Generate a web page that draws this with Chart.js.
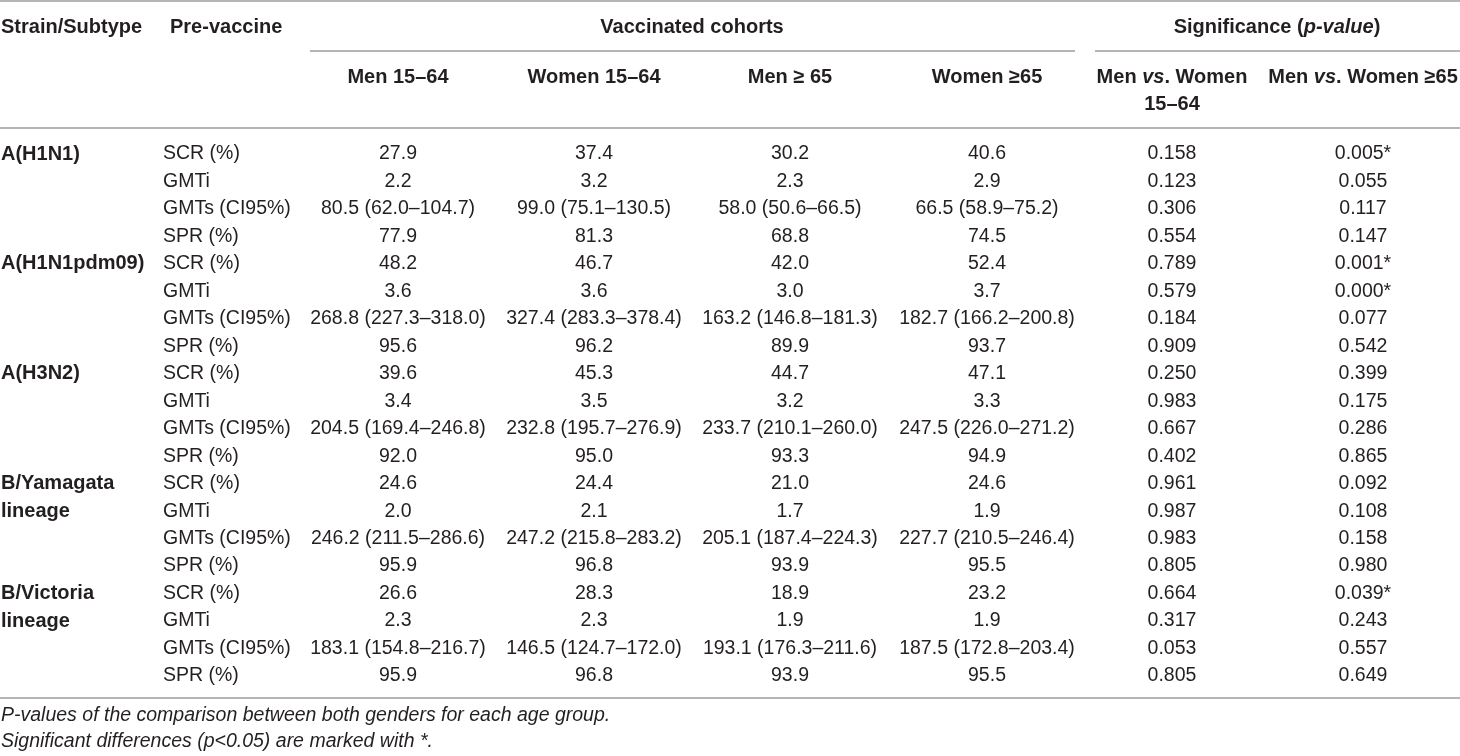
<!DOCTYPE html>
<html>
<head>
<meta charset="utf-8">
<script src="https://cdn.jsdelivr.net/npm/chart.js@4/dist/chart.umd.min.js"></script>
<style>
  html, body { margin: 0; padding: 0; background: #fff; }
  #wrap { width: 1460px; height: 756px; }
</style>
</head>
<body>
<div id="wrap"><canvas id="table" width="1460" height="756"></canvas></div>
<script>
// Table data
const strains = ['A(H1N1)', 'A(H1N1pdm09)', 'A(H3N2)', 'B/Yamagata lineage', 'B/Victoria lineage'];
const strainCells = ['A(H1N1)', '', '', '', 'A(H1N1pdm09)', '', '', '', 'A(H3N2)', '', '', '',
  'B/Yamagata', 'lineage', '', '', 'B/Victoria', 'lineage', '', ''];
const measures = ['SCR (%)', 'GMTi', 'GMTs (CI95%)', 'SPR (%)'];
const measureCells = strains.flatMap(() => measures);
const rowKeys = strains.flatMap(s => measures.map(m => s + ' ' + m));

const men1564 = ['27.9', '2.2', '80.5 (62.0–104.7)', '77.9', '48.2', '3.6', '268.8 (227.3–318.0)', '95.6',
  '39.6', '3.4', '204.5 (169.4–246.8)', '92.0', '24.6', '2.0', '246.2 (211.5–286.6)', '95.9',
  '26.6', '2.3', '183.1 (154.8–216.7)', '95.9'];
const women1564 = ['37.4', '3.2', '99.0 (75.1–130.5)', '81.3', '46.7', '3.6', '327.4 (283.3–378.4)', '96.2',
  '45.3', '3.5', '232.8 (195.7–276.9)', '95.0', '24.4', '2.1', '247.2 (215.8–283.2)', '96.8',
  '28.3', '2.3', '146.5 (124.7–172.0)', '96.8'];
const men65 = ['30.2', '2.3', '58.0 (50.6–66.5)', '68.8', '42.0', '3.0', '163.2 (146.8–181.3)', '89.9',
  '44.7', '3.2', '233.7 (210.1–260.0)', '93.3', '21.0', '1.7', '205.1 (187.4–224.3)', '93.9',
  '18.9', '1.9', '193.1 (176.3–211.6)', '93.9'];
const women65 = ['40.6', '2.9', '66.5 (58.9–75.2)', '74.5', '52.4', '3.7', '182.7 (166.2–200.8)', '93.7',
  '47.1', '3.3', '247.5 (226.0–271.2)', '94.9', '24.6', '1.9', '227.7 (210.5–246.4)', '95.5',
  '23.2', '1.9', '187.5 (172.8–203.4)', '95.5'];
const pValues1564 = ['0.158', '0.123', '0.306', '0.554', '0.789', '0.579', '0.184', '0.909',
  '0.250', '0.983', '0.667', '0.402', '0.961', '0.987', '0.983', '0.805',
  '0.664', '0.317', '0.053', '0.805'];
const pValues65 = ['0.005*', '0.055', '0.117', '0.147', '0.001*', '0.000*', '0.077', '0.542',
  '0.399', '0.175', '0.286', '0.865', '0.092', '0.108', '0.158', '0.980',
  '0.039*', '0.243', '0.557', '0.649'];

const footnotes = [
  'P-values of the comparison between both genders for each age group.',
  'Significant differences (p<0.05) are marked with *.'
];

// Layout (column anchors on the x scale, header/footer offsets from the chart area)
const FAMILY = '"Liberation Sans", Arial, Helvetica, sans-serif';
const TEXT = '#231f20';
const RULE = '#9d9d9d';
const SIZE = 19.5;
const HEAD_SIZE = 20;
const columns = [
  { cells: strainCells, x: 1, align: 'left', bold: true },
  { cells: measureCells, x: 163, align: 'left' },
  { cells: men1564, x: 398, align: 'center' },
  { cells: women1564, x: 594, align: 'center' },
  { cells: men65, x: 790, align: 'center' },
  { cells: women65, x: 987, align: 'center' },
  { cells: pValues1564, x: 1172, align: 'center' },
  { cells: pValues65, x: 1363, align: 'center' }
];
const head = {
  topRule: -153, row1: -127, subRule: -103, row2: -77, row2b: -50, headRule: -26,
  bottomRule: 22, foot1: 40, foot2: 66
};

function font(bold, italic, size) {
  return (italic ? 'italic ' : '') + (bold ? 'bold ' : '') + size + 'px ' + FAMILY;
}

// draw a line of mixed runs: [{t, b, i}]
function drawRuns(ctx, runs, x, y, align, size) {
  let w = 0;
  runs.forEach(r => { ctx.font = font(r.b, r.i, size); w += ctx.measureText(r.t).width; });
  let cx = align === 'center' ? x - w / 2 : (align === 'right' ? x - w : x);
  ctx.textAlign = 'left';
  ctx.textBaseline = 'middle';
  runs.forEach(r => {
    ctx.font = font(r.b, r.i, size);
    ctx.fillText(r.t, cx, y);
    cx += ctx.measureText(r.t).width;
  });
}

function rule(ctx, x1, x2, y) {
  ctx.beginPath();
  ctx.moveTo(x1, y);
  ctx.lineTo(x2, y);
  ctx.stroke();
}

const tablePlugin = {
  id: 'tableText',
  afterDatasetsDraw(chart) {
    const ctx = chart.ctx;
    ctx.save();
    ctx.fillStyle = TEXT;
    chart.data.datasets.forEach((ds, di) => {
      const col = columns[di];
      chart.getDatasetMeta(di).data.forEach((pt, i) => {
        const txt = col.cells[i];
        if (!txt) return;
        drawRuns(ctx, [{ t: txt, b: !!col.bold }], pt.x, pt.y, col.align, col.bold ? HEAD_SIZE : SIZE);
      });
    });
    ctx.restore();
  },
  afterDraw(chart) {
    const ctx = chart.ctx;
    const xs = chart.scales.x;
    const area = chart.chartArea;
    const px = v => xs.getPixelForValue(v);
    const top = area.top, bottom = area.bottom;
    ctx.save();
    ctx.strokeStyle = RULE;
    ctx.lineWidth = 1.6;
    rule(ctx, px(0), px(1460), top + head.topRule);
    rule(ctx, px(310), px(1075), top + head.subRule);
    rule(ctx, px(1095), px(1460), top + head.subRule);
    rule(ctx, px(0), px(1460), top + head.headRule);
    rule(ctx, px(0), px(1460), bottom + head.bottomRule);

    ctx.fillStyle = TEXT;
    const r1 = top + head.row1, r2 = top + head.row2;
    drawRuns(ctx, [{ t: 'Strain/Subtype', b: true }], px(1), r1, 'left', HEAD_SIZE);
    drawRuns(ctx, [{ t: 'Pre-vaccine', b: true }], px(170), r1, 'left', HEAD_SIZE);
    drawRuns(ctx, [{ t: 'Vaccinated cohorts', b: true }], px(692), r1, 'center', HEAD_SIZE);
    drawRuns(ctx, [{ t: 'Significance (', b: true }, { t: 'p-value', b: true, i: true }, { t: ')', b: true }],
      px(1277), r1, 'center', HEAD_SIZE);

    drawRuns(ctx, [{ t: 'Men 15–64', b: true }], px(columns[2].x), r2, 'center', HEAD_SIZE);
    drawRuns(ctx, [{ t: 'Women 15–64', b: true }], px(columns[3].x), r2, 'center', HEAD_SIZE);
    drawRuns(ctx, [{ t: 'Men ≥ 65', b: true }], px(columns[4].x), r2, 'center', HEAD_SIZE);
    drawRuns(ctx, [{ t: 'Women ≥65', b: true }], px(columns[5].x), r2, 'center', HEAD_SIZE);
    drawRuns(ctx, [{ t: 'Men ', b: true }, { t: 'vs', b: true, i: true }, { t: '. Women', b: true }],
      px(columns[6].x), r2, 'center', HEAD_SIZE);
    drawRuns(ctx, [{ t: '15–64', b: true }], px(columns[6].x), top + head.row2b, 'center', HEAD_SIZE);
    drawRuns(ctx, [{ t: 'Men ', b: true }, { t: 'vs', b: true, i: true }, { t: '. Women ≥65', b: true }],
      px(columns[7].x), r2, 'center', HEAD_SIZE);

    drawRuns(ctx, [{ t: footnotes[0], i: true }], px(1), bottom + head.foot1, 'left', SIZE);
    drawRuns(ctx, [{ t: footnotes[1], i: true }], px(1), bottom + head.foot2, 'left', SIZE);
    ctx.restore();
  }
};

new Chart(document.getElementById('table'), {
  type: 'scatter',
  data: {
    datasets: columns.map(col => ({
      data: col.cells.map((_, i) => ({ x: col.x, y: i })),
      pointRadius: 0,
      pointHoverRadius: 0,
      showLine: false
    }))
  },
  options: {
    responsive: false,
    animation: false,
    devicePixelRatio: 1,
    layout: { padding: { top: 154, bottom: 80, left: 0, right: 0 } },
    plugins: { legend: { display: false }, tooltip: { enabled: false } },
    scales: {
      x: { type: 'linear', min: 0, max: 1460, display: false },
      y: { type: 'category', labels: rowKeys, offset: false, display: false }
    }
  },
  plugins: [tablePlugin]
});
</script>
</body>
</html>
